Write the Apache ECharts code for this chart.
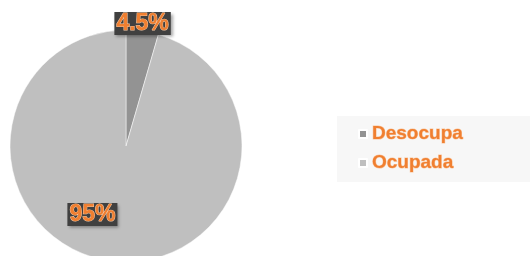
<!DOCTYPE html>
<html>
<head>
<meta charset="utf-8">
<script src="https://cdn.jsdelivr.net/npm/echarts@6/dist/echarts.min.js"></script>
<style>
  html, body { margin: 0; padding: 0; background: #fff; }
  #main { width: 530px; height: 256px; }
</style>
</head>
<body>
<div id="main"></div>
<script>
  var categories = ['Desocupa', 'Ocupada'];
  var values = [4.5, 95.5];
  var labelTexts = ['4.5%', '95%'];
  var colors = ['#939393', '#bfbfbf'];

  // label shifts from the default inside spot
  var labelShift = [[8, -62], [-25, 8]];

  var myChart = echarts.init(document.getElementById('main'));
  var option = {
    animation: false,
    legend: {
      orient: 'vertical',
      left: 337,
      top: 116,
      width: 193,
      backgroundColor: '#f7f7f7',
      padding: [8, 70, 9, 21],
      itemGap: 9,
      icon: 'rect',
      itemWidth: 8,
      itemHeight: 8,
      data: categories,
      textStyle: {
        fontFamily: 'Liberation Sans',
        fontWeight: 'bold',
        fontSize: 19,
        color: '#F07F30',
        textBorderColor: '#f9c9a4',
        textBorderWidth: 1,
        padding: [0, 0, 0, 0]
      }
    },
    series: [{
      type: 'pie',
      center: [126, 146],
      radius: 116,
      startAngle: 90,
      clockwise: true,
      data: categories.map(function (c, i) {
        return { name: c, value: values[i], itemStyle: { color: colors[i] } };
      }),
      itemStyle: { borderColor: '#fff', borderWidth: 0.5 },
      label: {
        position: 'inside',
        formatter: function (p) { return labelTexts[p.dataIndex]; },
        fontFamily: 'Liberation Sans',
        fontWeight: 'bold',
        fontSize: 23,
        color: '#F07F30',
        textBorderColor: '#f9c9a4',
        textBorderWidth: 1,
        backgroundColor: '#404040',
        padding: [1, 2, -1, 2],
        shadowColor: 'rgba(0,0,0,0.35)',
        shadowBlur: 3,
        shadowOffsetX: 2,
        shadowOffsetY: 2
      },
      labelLine: { show: false },
      labelLayout: function (params) {
        var s = labelShift[params.dataIndex];
        return { dx: s[0], dy: s[1] };
      }
    }]
  };
  option && myChart.setOption(option);
</script>
</body>
</html>
